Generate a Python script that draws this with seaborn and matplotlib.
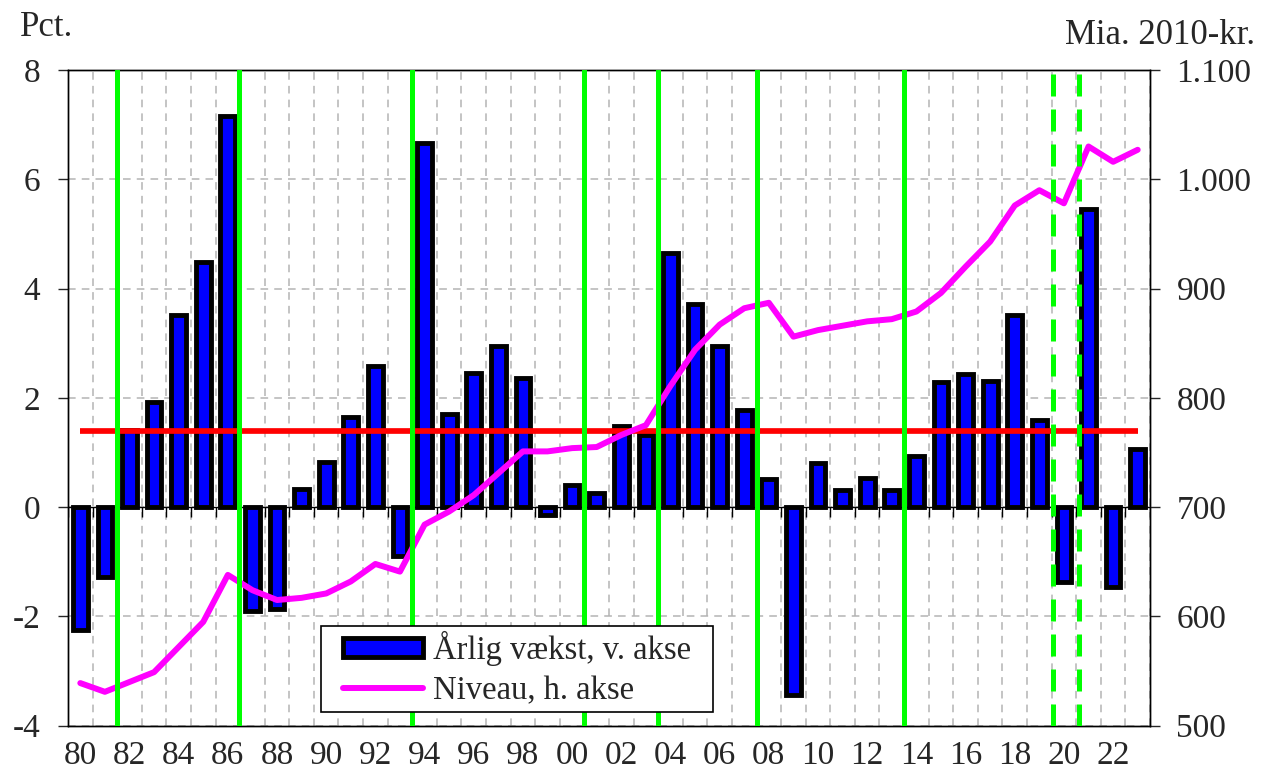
import numpy as np
import matplotlib
matplotlib.use("Agg")
import matplotlib.pyplot as plt
from matplotlib.patches import Patch, Rectangle
from matplotlib.lines import Line2D
from matplotlib.ticker import FuncFormatter, MultipleLocator
import seaborn as sns

# Data
years = list(range(1980, 2024))
growth = [-2.25, -1.27, 1.42, 1.93, 3.51, 4.48, 7.15, -1.91, -1.86, 0.33,
          0.83, 1.65, 2.58, -0.89, 6.66, 1.71, 2.46, 2.95, 2.36, -0.15,
          0.40, 0.25, 1.49, 1.32, 4.66, 3.71, 2.95, 1.77, 0.51, -3.44,
          0.81, 0.31, 0.54, 0.31, 0.93, 2.29, 2.44, 2.31, 3.51, 1.59,
          -1.37, 5.46, -1.46, 1.06]
niveau = [539, 531, 540, 549, 572, 595, 638, 624, 615, 617,
          621, 632, 648, 641, 684, 696, 711, 731, 751, 751,
          754, 755, 766, 775, 811, 844, 867, 882, 887, 856,
          862, 866, 870, 872, 879, 896, 920, 943, 976, 990,
          978, 1030, 1016, 1027]
avg_growth = 1.4
turning_points = [1981.5, 1986.45, 1993.5, 2000.5, 2003.5, 2007.5, 2013.5]
turning_points_dashed = [2019.55, 2020.6]

sns.set_style("white")
plt.rcParams["font.family"] = ["Liberation Serif", "DejaVu Serif"]
plt.rcParams["font.size"] = 24
plt.rcParams["axes.unicode_minus"] = False

fig = plt.figure(figsize=(12.64, 7.72), dpi=100)
ax = fig.add_axes([68 / 1264, 1 - 725.7 / 772, (1150 - 68) / 1264, (725.7 - 70) / 772])

# grid
ax.set_xlim(1979.5, 2023.5)
ax.set_ylim(-4, 8)
ax.xaxis.set_minor_locator(MultipleLocator(1, offset=0.5))
ax.set_xticks(years[::2])
ax.set_xticklabels([f"{y % 100:02d}" for y in years[::2]])
ax.yaxis.set_major_locator(MultipleLocator(2))
ax.grid(True, which="minor", axis="x", color="#b4b4b4", linestyle=(0, (5, 4)), lw=1.1, zorder=0)
ax.grid(True, which="major", axis="y", color="#b4b4b4", linestyle=(0, (5, 4)), lw=1.1, zorder=0)
ax.set_axisbelow(True)

# zero line with small ticks at year boundaries
ax.axhline(0, color="black", lw=1, zorder=1)
bounds = np.arange(years[0] - 0.5, years[-1] + 1, 1)
ax.vlines(bounds, -0.18, 0, color="black", lw=1, zorder=1)

sns.barplot(x=years, y=growth, native_scale=True, width=0.6, color="blue",
            saturation=1, edgecolor="black", linewidth=3.5, errorbar=None,
            ax=ax, zorder=2)
ax.hlines(avg_growth, years[0], years[-1], color="red", lw=4.1, zorder=3)

ax.set_xlim(1979.5, 2023.5)
ax.set_xlabel("")
ax.set_ylabel("")
ax.tick_params(axis="y", which="major", direction="out", length=7, width=1,
               pad=13, left=True, labelsize=24)
ax.tick_params(axis="x", which="both", length=0, pad=11, labelsize=24)
for s in ax.spines.values():
    s.set_color("black")
    s.set_linewidth(1)

ax2 = ax.twinx()
sns.lineplot(x=years, y=niveau, color="#ff00ff", lw=4.3, ax=ax2, zorder=3)
ax2.set_ylim(500, 1100)
ax2.set_xlim(1979.5, 2023.5)
ax2.yaxis.set_major_locator(MultipleLocator(100))
ax2.yaxis.set_major_formatter(FuncFormatter(lambda v, p: f"{v:,.0f}".replace(",", ".")))
ax2.tick_params(axis="y", direction="out", length=7, width=1, pad=12, right=True, labelsize=24)
ax2.set_ylabel("")
ax2.grid(False)
for s in ax2.spines.values():
    s.set_color("black")
    s.set_linewidth(1)

for tp in turning_points:
    ax2.axvline(tp, color="#00ff00", lw=3.6, zorder=4)
for tp in turning_points_dashed:
    ax2.axvline(tp, color="#00ff00", lw=3.6, linestyle=(0, (4.4, 2.6)), zorder=4)

# legend box drawn separately so the padding matches the original
frame = Rectangle((0.2338, 0.0209), 0.3623, 0.1312, transform=ax2.transAxes,
                  facecolor="white", edgecolor="black", lw=1.2, zorder=9)
ax2.add_patch(frame)
handles = [Patch(facecolor="blue", edgecolor="black", linewidth=3.5),
           Line2D([0], [0], color="#ff00ff", lw=4.3)]
leg = ax2.legend(handles, ["Årlig vækst, v. akse", "Niveau, h. akse"],
                 loc="center left", bbox_to_anchor=(0.2541, 0.0872), borderaxespad=0,
                 fontsize=23.5, frameon=False, handlelength=2.45, handleheight=0.5,
                 handletextpad=0.3, labelspacing=0.28, borderpad=0)
leg.set_zorder(10)

fig.text(20 / 1264, 1 - 36 / 772, "Pct.", ha="left", va="baseline", fontsize=25)
fig.text(1255 / 1264, 1 - 44 / 772, "Mia. 2010-kr.", ha="right", va="baseline", fontsize=25)

fig.savefig("out.png", dpi=100)
